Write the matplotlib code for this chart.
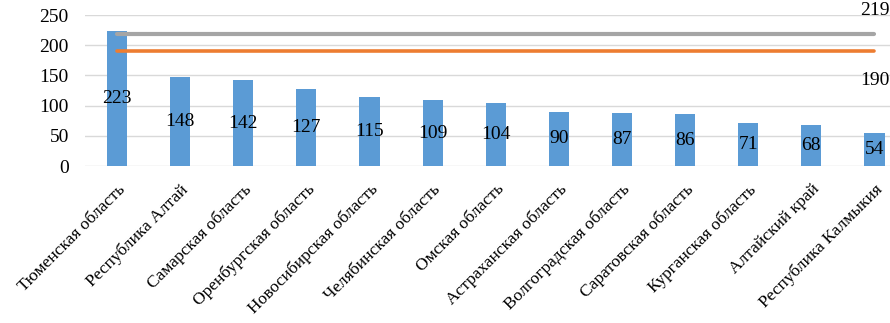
import numpy as np
import matplotlib.pyplot as plt

plt.rcParams["font.family"] = ["Liberation Serif", "DejaVu Serif"]

regions = ["Тюменская область", "Республика Алтай", "Самарская область",
           "Оренбургская область", "Новосибирская область", "Челябинская область",
           "Омская область", "Астраханская область", "Волгоградская область",
           "Саратовская область", "Курганская область", "Алтайский край",
           "Республика Калмыкия"]
values = [223, 148, 142, 127, 115, 109, 104, 90, 87, 86, 71, 68, 54]
level_gray = 219
level_orange = 190

BAR_COLOR = "#5B9BD5"
GRAY = "#A5A5A5"
ORANGE = "#ED7D31"

x = np.arange(len(regions))

fig = plt.figure(figsize=(8.9, 3.23), dpi=100)
ax = fig.add_axes([0.096, 0.486, 0.922, 0.4675])

ax.bar(x, values, width=0.32, color=BAR_COLOR, zorder=2)
for xi, v in zip(x, values):
    ax.text(xi, v / 2, str(v), ha="center", va="center", fontsize=14, zorder=4)

ax.plot(x, [level_gray] * len(x), color=GRAY, lw=3, solid_capstyle="round", zorder=3)
ax.plot(x, [level_orange] * len(x), color=ORANGE, lw=2.6, solid_capstyle="round", zorder=3)
ax.annotate(str(level_gray), (x[-1], level_gray), xytext=(0, 17),
            textcoords="offset points", ha="center", va="center", fontsize=14)
ax.annotate(str(level_orange), (x[-1], level_orange), xytext=(0, -21),
            textcoords="offset points", ha="center", va="center", fontsize=14)

ax.set_xlim(-0.5, len(x) - 0.5)
ax.set_ylim(0, 250)
ax.set_yticks(range(0, 251, 50))
ax.yaxis.grid(True, color="#D9D9D9", lw=1, zorder=0)
ax.set_axisbelow(True)
for s in ax.spines.values():
    s.set_visible(False)
ax.tick_params(axis="both", length=0, labelsize=14)
ax.tick_params(axis="y", pad=12)
ax.tick_params(axis="x", pad=11, labelsize=12.6)
ax.set_xticks(x)
ax.set_xticklabels(regions, rotation=45, ha="right", rotation_mode="anchor")

fig.savefig("out.png", dpi=100)
